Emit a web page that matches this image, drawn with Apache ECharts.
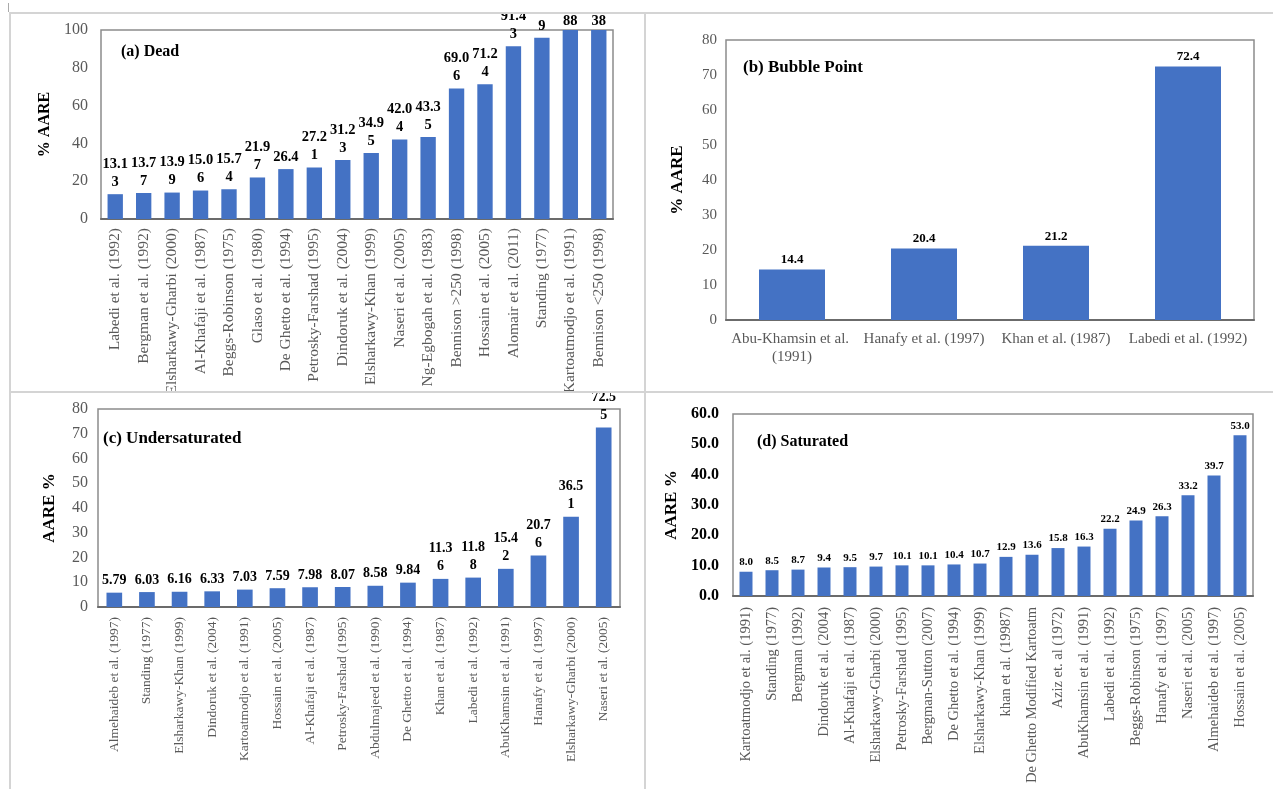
<!DOCTYPE html>
<html>
<head>
<meta charset="utf-8">
<script src="https://cdn.jsdelivr.net/npm/echarts@6/dist/echarts.min.js"></script>
<style>
  html, body { margin: 0; padding: 0; background: #fff; width: 1273px; height: 789px; overflow: hidden; }
  .panel { position: absolute; overflow: hidden; }
  .ln { position: absolute; background: #d4d4d4; }
</style>
</head>
<body>
<div class="ln" style="left:10px;top:12px;width:1263px;height:2px;"></div>
<div class="ln" style="left:9px;top:12px;width:2px;height:777px;"></div>
<div class="ln" style="left:644px;top:12px;width:2px;height:777px;"></div>
<div class="ln" style="left:10px;top:391px;width:1263px;height:2px;"></div>
<div class="ln" style="left:8px;top:3px;width:1px;height:9px;background:#aaa;"></div>

<div id="pa" class="panel" style="left:11px;top:14px;width:633px;height:377px;"></div>
<div id="pb" class="panel" style="left:646px;top:14px;width:627px;height:377px;"></div>
<div id="pc" class="panel" style="left:11px;top:393px;width:633px;height:396px;"></div>
<div id="pd" class="panel" style="left:646px;top:393px;width:627px;height:396px;"></div>

<script>
// ---------------- DATA ----------------
const deadCategories = [
  "Labedi et al. (1992)", "Bergman et al. (1992)", "Elsharkawy-Gharbi (2000)", "Al-Khafaji et al. (1987)",
  "Beggs-Robinson (1975)", "Glaso et al. (1980)", "De Ghetto et al. (1994)", "Petrosky-Farshad (1995)",
  "Dindoruk et al. (2004)", "Elsharkawy-Khan (1999)", "Naseri et al. (2005)", "Ng-Egbogah et al. (1983)",
  "Bennison >250 (1998)", "Hossain et al. (2005)", "Alomair et al. (2011)", "Standing (1977)",
  "Kartoatmodjo et al. (1991)", "Bennison <250 (1998)"
];
const deadValues = [13.13, 13.77, 13.99, 15.06, 15.74, 21.97, 26.4, 27.21, 31.23, 34.95, 42.04, 43.35,
  69.06, 71.24, 91.43, 95.89, 100.88, 100.38];
const deadTicks = { min: 0, max: 100, interval: 20 };

const bubbleCategories = ["Abu-Khamsin et al. (1991)", "Hanafy et al. (1997)", "Khan et al. (1987)", "Labedi et al. (1992)"];
const bubbleValues = [14.4, 20.4, 21.2, 72.4];
const bubbleTicks = { min: 0, max: 80, interval: 10 };

const underCategories = [
  "Almehaideb et al. (1997)", "Standing (1977)", "Elsharkawy-Khan (1999)", "Dindoruk et al. (2004)",
  "Kartoatmodjo et al. (1991)", "Hossain et al. (2005)", "Al-Khafaji et al. (1987)", "Petrosky-Farshad (1995)",
  "Abdulmajeed et al. (1990)", "De Ghetto et al. (1994)", "Khan et al. (1987)", "Labedi et al. (1992)",
  "AbuKhamsin et al. (1991)", "Hanafy et al. (1997)", "Elsharkawy-Gharbi (2000)", "Naseri et al. (2005)"
];
const underValues = [5.79, 6.03, 6.16, 6.33, 7.03, 7.59, 7.98, 8.07, 8.58, 9.84, 11.36, 11.88, 15.42, 20.76, 36.51, 72.55];
const underTicks = { min: 0, max: 80, interval: 10 };

const satCategories = [
  "Kartoatmodjo et al. (1991)", "Standing (1977)", "Bergman (1992)", "Dindoruk et al. (2004)",
  "Al-Khafaji et al. (1987)", "Elsharkawy-Gharbi (2000)", "Petrosky-Farshad (1995)", "Bergman-Sutton (2007)",
  "De Ghetto et al. (1994)", "Elsharkawy-Khan (1999)", "khan et al. (19987)", "De Ghetto Modified Kartoatm",
  "Aziz et. al (1972)", "AbuKhamsin et al. (1991)", "Labedi et al. (1992)", "Beggs-Robinson (1975)",
  "Hanafy et al. (1997)", "Naseri et al. (2005)", "Almehaideb et al. (1997)", "Hossain et al. (2005)"
];
const satValues = [8.0, 8.5, 8.7, 9.4, 9.5, 9.7, 10.1, 10.1, 10.4, 10.7, 12.9, 13.6, 15.8, 16.3, 22.2, 24.9, 26.3, 33.2, 39.7, 53.0];
const satTicks = { min: 0, max: 60, interval: 10 };

// ---------------- RENDER ----------------
const SERIF = "Liberation Serif";
const BAR = "#4472C4";

function wrap4(p) {
  const s = String(p.value);
  return s.length > 4 ? s.slice(0, 4) + "\n" + s.slice(4) : s;
}

function makeChart(id, cfg) {
  const chart = echarts.init(document.getElementById(id), null, { renderer: 'canvas' });
  const data = cfg.values.map(v => v > cfg.ticks.max ? { value: v, label: { distance: 0 } } : v);
  chart.setOption({
    animation: false,
    title: {
      text: cfg.title, left: cfg.titlePos[0], top: cfg.titlePos[1],
      textStyle: { fontFamily: SERIF, fontWeight: 'bold', fontSize: cfg.titleSize, color: '#000' }
    },
    grid: {
      left: cfg.grid[0], top: cfg.grid[1], width: cfg.grid[2], height: cfg.grid[3],
      containLabel: false, outerBoundsMode: 'none',
      show: true, borderColor: '#8c8c8c', borderWidth: 1.5, backgroundColor: 'transparent'
    },
    xAxis: {
      type: 'category', data: cfg.categories,
      axisTick: { show: false },
      axisLine: { show: true, lineStyle: { color: '#6b6b6b', width: 2 } },
      axisLabel: Object.assign({
        interval: 0, rotate: cfg.rotate, fontFamily: SERIF, fontSize: cfg.xSize, color: '#595959',
        margin: cfg.xMargin
      }, cfg.xLabelExtra || {})
    },
    yAxis: {
      type: 'value', min: cfg.ticks.min, max: cfg.ticks.max, interval: cfg.ticks.interval,
      splitLine: { show: false }, axisLine: { show: false }, axisTick: { show: false },
      axisLabel: {
        fontFamily: SERIF, fontSize: cfg.ySize, color: cfg.yColor, fontWeight: cfg.yWeight,
        margin: cfg.yMargin, formatter: cfg.yFormatter
      },
      name: cfg.yName, nameLocation: 'middle', nameGap: cfg.nameGap,
      nameTextStyle: { fontFamily: SERIF, fontWeight: 'bold', fontSize: cfg.nameSize, color: '#000' }
    },
    series: [{
      type: 'bar', data: data, barWidth: cfg.barWidth,
      itemStyle: { color: BAR },
      label: {
        show: true, position: 'top', distance: cfg.labelDist,
        formatter: cfg.labelFormatter,
        fontFamily: SERIF, fontWeight: 'bold', fontSize: cfg.labelSize, color: '#000',
        lineHeight: cfg.labelLH
      }
    }]
  });
}

makeChart('pa', {
  title: '(a) Dead', titlePos: [105, 25], titleSize: 16,
  grid: [90, 16, 512, 189],
  categories: deadCategories, values: deadValues, ticks: deadTicks,
  rotate: 90, xSize: 15.5, xMargin: 9,
  ySize: 16, yColor: '#595959', yWeight: 'normal', yMargin: 13,
  yName: '% AARE', nameGap: 46, nameSize: 16,
  barWidth: '54%', labelDist: 3, labelSize: 14.5, labelLH: 18,
  labelFormatter: wrap4
});

makeChart('pb', {
  title: '(b) Bubble Point', titlePos: [92, 40], titleSize: 17,
  grid: [80, 26, 528, 280],
  categories: bubbleCategories, values: bubbleValues, ticks: bubbleTicks,
  rotate: 0, xSize: 15, xMargin: 10,
  xLabelExtra: { width: 130, overflow: 'break', lineHeight: 18 },
  ySize: 15, yColor: '#595959', yWeight: 'normal', yMargin: 9,
  yName: '% AARE', nameGap: 40, nameSize: 17,
  barWidth: '50%', labelDist: 2, labelSize: 13, labelLH: 15,
  labelFormatter: p => p.value.toFixed(1)
});

makeChart('pc', {
  title: '(c) Undersaturated', titlePos: [87, 32], titleSize: 17,
  grid: [87, 16, 522, 198],
  categories: underCategories, values: underValues, ticks: underTicks,
  rotate: 90, xSize: 13.5, xMargin: 10,
  ySize: 16, yColor: '#595959', yWeight: 'normal', yMargin: 10,
  yName: 'AARE %', nameGap: 40, nameSize: 17,
  barWidth: '48%', labelDist: 3, labelSize: 14, labelLH: 18,
  labelFormatter: wrap4
});

makeChart('pd', {
  title: '(d) Saturated', titlePos: [106, 36], titleSize: 16,
  grid: [87, 21, 520, 182],
  categories: satCategories, values: satValues, ticks: satTicks,
  rotate: 90, xSize: 14.5, xMargin: 11,
  ySize: 16, yColor: '#000', yWeight: 'bold', yMargin: 14,
  yFormatter: v => v.toFixed(1),
  yName: 'AARE %', nameGap: 46, nameSize: 17,
  barWidth: '50%', labelDist: 3, labelSize: 11, labelLH: 13,
  labelFormatter: p => p.value.toFixed(1)
});
</script>
</body>
</html>
